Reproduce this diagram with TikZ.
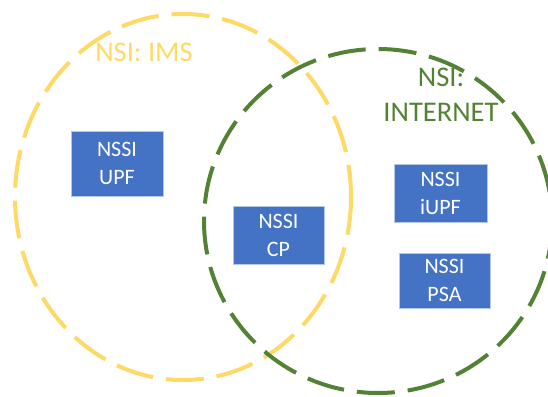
\documentclass[tikz,border=0pt]{standalone}
\usepackage{fontspec}
\setmainfont{Carlito}
\definecolor{imsgold}{HTML}{FFD966}
\definecolor{netgreen}{HTML}{548235}
\definecolor{slicefill}{HTML}{4472C4}
\definecolor{sliceedge}{HTML}{B4C7E7}
\begin{document}
\begin{tikzpicture}[x=1pt,y=-1pt,
  ring/.style={line width=4pt, dash pattern=on 38pt off 13pt},
  slice/.style={fill=slicefill, draw=sliceedge, line width=1pt, text=white,
    align=center, inner sep=0pt, font=\fontsize{22}{28}\selectfont},
  setlabel/.style={align=center, font=\fontsize{28.5}{35}\selectfont}]
  \useasboundingbox (0,0) rectangle (548,396);
  % network slice instances as dashed rings
  \draw[ring, imsgold] (183,197) ellipse [x radius=168, y radius=183];
  \draw[ring, netgreen] (378,221) ellipse [x radius=174, y radius=172];
  % ring titles
  \node[setlabel, text=imsgold] (ims) at (144,52) {NSI: IMS};
  \node[setlabel, text=netgreen] (inet) at (441,95) {NSI:\\INTERNET};
  % subnet slice instances
  \node[slice, minimum width=92pt, minimum height=65pt] (upf) at (117,163.5) {NSSI\\UPF};
  \node[slice, minimum width=91pt, minimum height=58pt] (cp) at (278.5,235) {NSSI\\CP};
  \node[slice, minimum width=93pt, minimum height=58pt] (iupf) at (440.5,193) {NSSI\\iUPF};
  \node[slice, minimum width=91pt, minimum height=55pt] (psa) at (444.5,280.5) {NSSI\\PSA};
\end{tikzpicture}
\end{document}
